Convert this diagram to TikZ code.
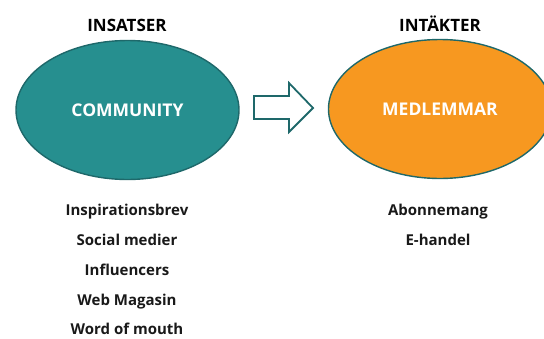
\documentclass[tikz,border=0pt]{standalone}
\usepackage{fontspec}
\setmainfont{Open Sans}
\usetikzlibrary{shapes.geometric}
\definecolor{tealfill}{RGB}{38,143,143}
\definecolor{tealline}{RGB}{30,104,106}
\definecolor{orangefill}{RGB}{247,152,32}
\tikzset{
  blob/.style={ellipse, draw=tealline, line width=1.4pt, minimum width=223pt, minimum height=139pt, inner sep=0pt,
    text=white, font=\fontsize{17.5}{20}\selectfont\bfseries},
  heading/.style={font=\fontsize{17}{20}\selectfont\bfseries, text=black, inner sep=0pt, anchor=base},
  item/.style={font=\fontsize{15}{18}\selectfont\bfseries, text=black!90, inner sep=0pt, anchor=base},
}
\begin{document}
\begin{tikzpicture}[x=1pt,y=-1pt]
\useasboundingbox (0,0) rectangle (544,338);
\clip (0,0) rectangle (544,338);
\node[heading] (h1) at (127,31) {INSATSER};
\node[heading] (h2) at (440,31) {INTÄKTER};
\node[blob, fill=tealfill] (community) at (127.5,110) {\raisebox{-1pt}{COMMUNITY}};
\node[blob, fill=orangefill] (medlem) at (440,109) {\raisebox{-1.5pt}{MEDLEMMAR}};
\draw[tealline, line width=1.8pt, fill=white, line join=miter]
  (254,96) -- (289,96) -- (289,83) -- (313,108) -- (289,132) -- (289,119) -- (254,119) -- cycle;
\node[item] (l1) at (127,215) {Inspirationsbrev};
\node[item] (l2) at (127,245) {Social medier};
\node[item] (l3) at (127,275) {Influencers};
\node[item] (l4) at (127,305) {Web Magasin};
\node[item] (l5) at (127,334.5) {Word of mouth};
\node[item] (r1) at (438,215) {Abonnemang};
\node[item] (r2) at (438,245) {E-handel};
\end{tikzpicture}
\end{document}
